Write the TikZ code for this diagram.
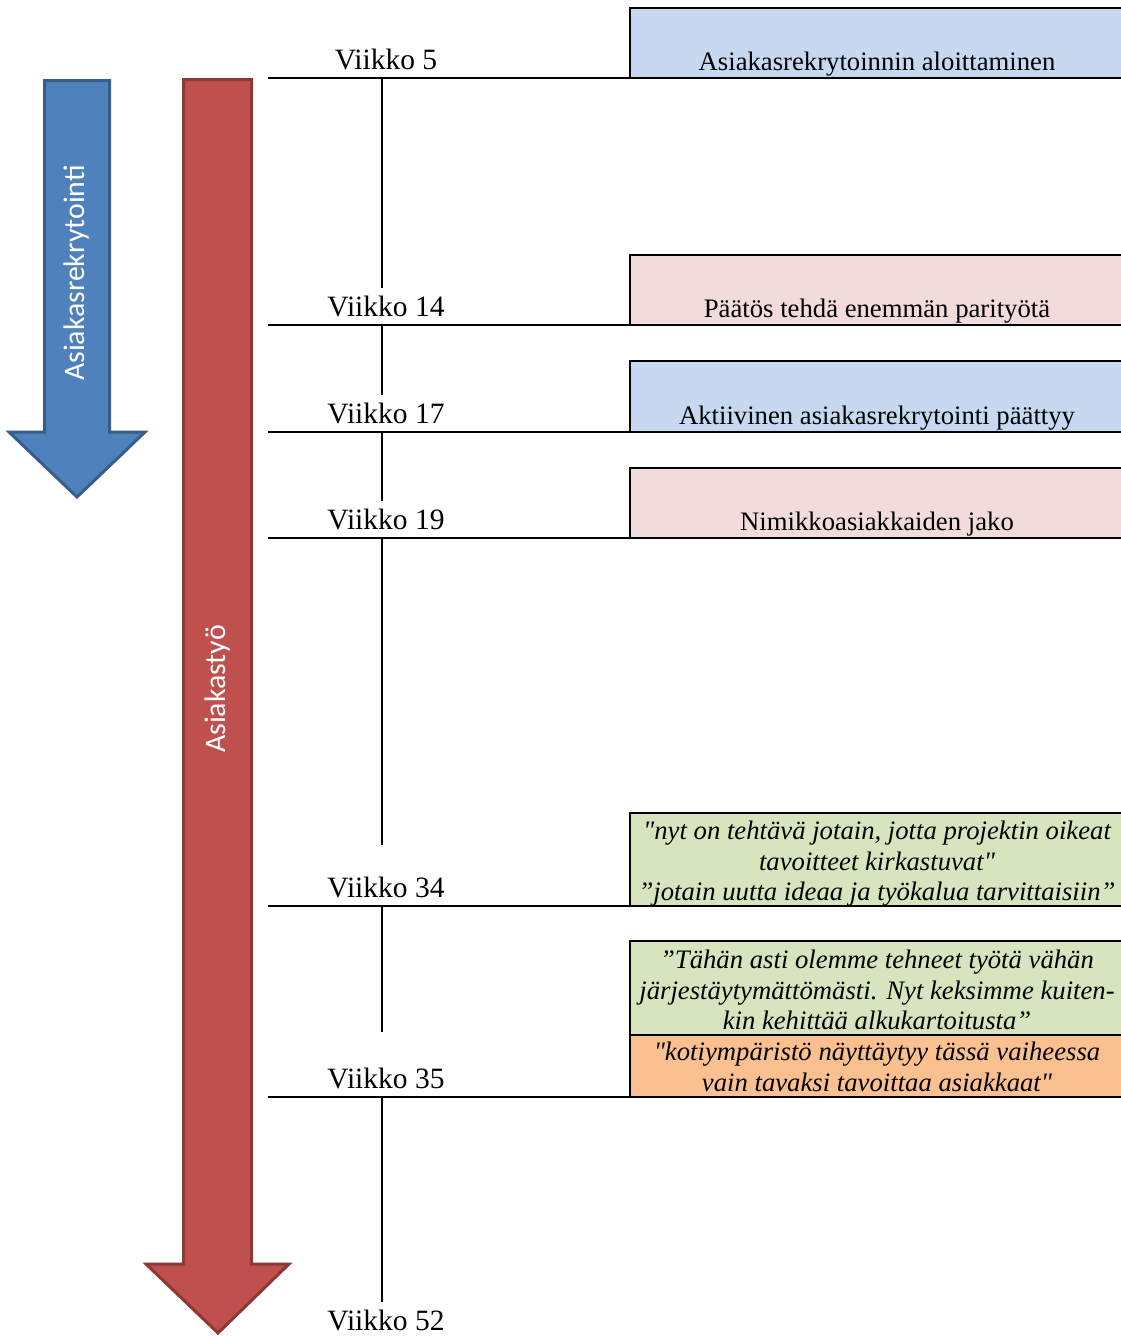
\documentclass[tikz,border=0pt]{standalone}
\usepackage{fontspec}
\setmainfont{Liberation Serif}[Ligatures=TeXOff]
\newfontfamily\nuolifont{Carlito}

\definecolor{nuolisin}{RGB}{79,129,189}
\definecolor{reunasin}{RGB}{56,93,138}
\definecolor{nuolipun}{RGB}{192,80,77}
\definecolor{reunapun}{RGB}{140,56,54}
\definecolor{laatsin}{RGB}{198,217,241}
\definecolor{laatpun}{RGB}{242,220,219}
\definecolor{laatvih}{RGB}{215,228,189}
\definecolor{laatora}{RGB}{250,192,144}

\begin{document}
\begin{tikzpicture}[x=1pt, y=-1pt,
    viiva/.style={line width=2pt},
    viikko/.style={font=\fontsize{29.5}{32}\selectfont, inner sep=0pt, outer sep=8pt, anchor=base},
    laatikko/.style={line width=2pt, draw=black},
    teksti/.style={font=\fontsize{26.7}{30}\selectfont, inner sep=0pt, anchor=base},
    sitaatti/.style={font=\fontsize{26.7}{30.5}\selectfont\itshape, inner sep=0pt, align=center},
    nuoliteksti/.style={font=\nuolifont\fontsize{29.8}{32}\selectfont, text=white, rotate=90}]
    \useasboundingbox (0,0) rectangle (1121,1336);
    \clip (0,0) rectangle (1121,1336);

    % --- NUOLET ---
    \draw[fill=nuolisin, draw=reunasin, line width=3pt]
        (44.5,80.5) -- (109.5,80.5) -- (109.5,432) -- (145,432)
        -- (77,497) -- (9,432) -- (44.5,432) -- cycle;
    \node[nuoliteksti] (rekry) at (77,273) {Asiakasrekrytointi};

    \draw[fill=nuolipun, draw=reunapun, line width=3pt]
        (183.5,79.5) -- (251.5,79.5) -- (251.5,1264) -- (289,1264)
        -- (218,1333) -- (146,1264) -- (183.5,1264) -- cycle;
    \node[nuoliteksti] (tyo) at (218,689) {Asiakastyö};

    % --- LAATIKOT ---
    \draw[laatikko, fill=laatsin] (630,8) rectangle (1130,78);
    \draw[laatikko, fill=laatpun] (630,255) rectangle (1130,325);
    \draw[laatikko, fill=laatsin] (630,361) rectangle (1130,432);
    \draw[laatikko, fill=laatpun] (630,468) rectangle (1130,538);
    \draw[laatikko, fill=laatvih] (630,813) rectangle (1130,906);
    \draw[laatikko, fill=laatvih] (630,941) rectangle (1130,1035);
    \draw[laatikko, fill=laatora] (630,1035) rectangle (1130,1097);

    \node[teksti] (t1) at (877,70) {Asiakasrekrytoinnin aloittaminen};
    \node[teksti] (t2) at (877,317) {Päätös tehdä enemmän parityötä};
    \node[teksti] (t3) at (877,424) {Aktiivinen asiakasrekrytointi päättyy};
    \node[teksti] (t4) at (877,530) {Nimikkoasiakkaiden jako};
    \node[sitaatti] (t5) at (877,864) {"nyt on tehtävä jotain, jotta projektin oikeat\\
        tavoitteet kirkastuvat"\\ ”jotain uutta ideaa ja työkalua tarvittaisiin”};
    \node[sitaatti] (t6) at (877,990) {”Tähän asti olemme tehneet työtä vähän\\
        järjestäytymättömästi. Nyt keksimme kuiten-\\ kin kehittää alkukartoitusta”};
    \node[sitaatti] (t7) at (877,1067) {"kotiympäristö näyttäytyy tässä vaiheessa\\
        vain tavaksi tavoittaa asiakkaat"};

    % --- AIKAJANA ---
    \foreach \v/\y in {5/78,14/325,17/432,19/538,34/906,35/1097} {
        \draw[viiva] (268,\y) -- (1121,\y);
        \coordinate (c\v) at (382,\y);
        \node[viikko] (w\v) at (386,\y-9) {Viikko \v};
    }
    \node[viikko] (w52) at (386,1330) {Viikko 52};

    \draw[viiva] (c5) -- (c5 |- w14.north);
    \draw[viiva] (c14) -- (c14 |- w17.north);
    \draw[viiva] (c17) -- (c17 |- w19.north);
    \draw[viiva, shorten >=24pt] (c19) -- (c19 |- w34.north);
    \draw[viiva, shorten >=28pt] (c34) -- (c34 |- w35.north);
    \draw[viiva] (c35) -- (c35 |- w52.north);
\end{tikzpicture}
\end{document}
